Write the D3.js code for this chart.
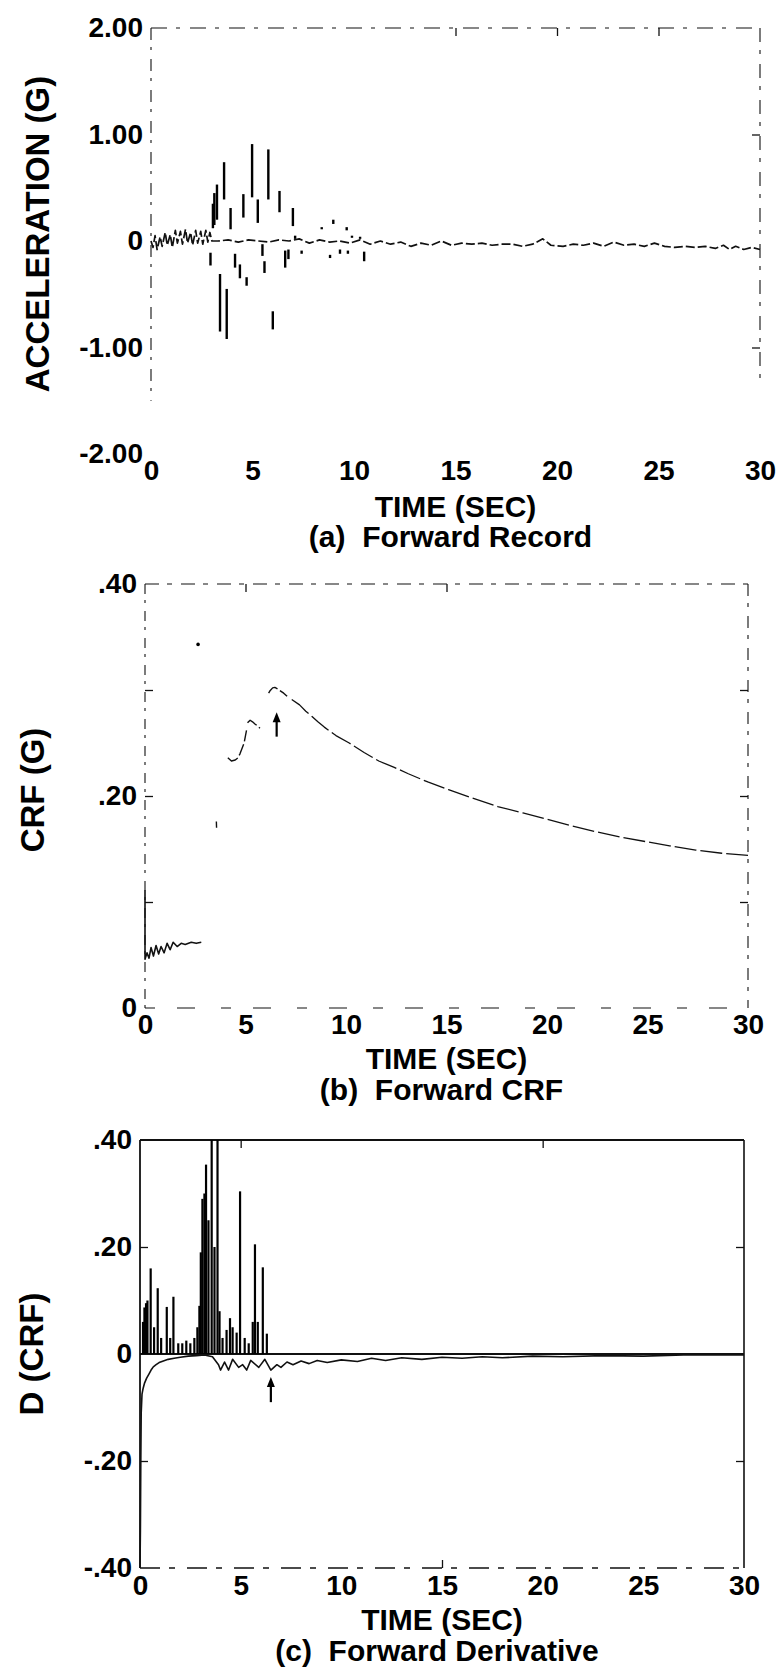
<!DOCTYPE html>
<html>
<head>
<meta charset="utf-8">
<script src="https://cdn.jsdelivr.net/npm/d3@7"></script>
<style>
  body { margin: 0; background: #fff; }
  svg text { font-family: "Liberation Sans", Arial, sans-serif; font-weight: bold; fill: #000; }
</style>
</head>
<body>
<svg id="chart" width="781" height="1671"></svg>
<script>
// ---------- DATA ----------
let timeTicks = [0, 5, 10, 15, 20, 25, 30];

// (a) forward record
let accelTicks = [2, 1, 0, -1, -2];
let accelLabels = ["2.00", "1.00", "0", "-1.00", "-2.00"];
let accelRightTicks = [1, -1];
let accelTopTicks = [15, 20, 25];
// baseline wiggle [t, g]
let accelTrace = [
    [0, 0], [0.1, -0.06], [0.2, 0.05], [0.3, -0.08], [0.45, 0.04], [0.55, -0.05], [0.7, 0.08],
    [0.8, -0.04], [0.95, 0.06], [1.05, -0.06], [1.2, 0.1], [1.3, -0.02], [1.45, 0.09], [1.55, -0.03],
    [1.7, 0.11], [1.8, -0.02], [1.95, 0.08], [2.05, -0.04], [2.2, 0.1], [2.3, -0.02], [2.45, 0.09],
    [2.55, -0.03], [2.7, 0.1], [2.8, -0.01], [2.9, 0.08], [3.0, 0], [3.3, 0], [3.8, 0.01], [4.3, -0.01],
    [4.8, 0.01], [5.3, 0], [5.8, -0.01], [6.3, 0.01], [6.8, 0], [7.3, 0.02], [7.8, -0.02], [8.3, 0.01],
    [8.8, -0.01], [9.3, 0], [9.8, -0.02], [10.3, 0.01], [10.8, -0.03], [11.3, 0], [11.8, -0.03],
    [12.3, -0.01], [12.8, -0.05], [13.3, -0.02], [13.8, -0.04], [14.3, 0], [14.8, -0.04], [15.3, -0.02],
    [15.8, -0.03], [16.3, -0.02], [16.8, -0.04], [17.3, -0.03], [17.8, -0.03], [18.3, -0.05],
    [18.8, -0.03], [19.3, 0.02], [19.7, -0.04], [20.3, -0.05], [20.8, -0.03], [21.3, -0.04],
    [21.8, -0.02], [22.3, -0.05], [22.8, -0.01], [23.3, -0.04], [23.8, -0.03], [24.3, -0.05],
    [24.8, -0.02], [25.3, -0.05], [25.8, -0.06], [26.3, -0.05], [26.8, -0.06], [27.3, -0.05],
    [27.8, -0.07], [28.2, -0.04], [28.5, -0.08], [28.8, -0.05], [29.2, -0.08], [29.6, -0.06], [30, -0.08]
];
// visible strokes of the strong motion part [t, high, low]
let accelSpikes = [
    [2.93, -0.11, -0.23], [3.05, 0.35, 0.12], [3.12, 0.45, 0.15], [3.25, 0.53, 0.2], [3.4, -0.31, -0.85],
    [3.6, 0.74, 0.39], [3.73, -0.45, -0.92], [3.92, 0.31, 0.11], [4.14, -0.12, -0.25], [4.38, -0.22, -0.35],
    [4.55, 0.44, 0.22], [4.71, -0.34, -0.42], [4.98, 0.91, 0.41], [5.26, 0.39, 0.17], [5.49, -0.03, -0.14],
    [5.59, -0.19, -0.3], [5.78, 0.86, 0.39], [6.0, -0.66, -0.83], [6.33, 0.47, 0.27], [6.61, -0.09, -0.25],
    [6.77, -0.08, -0.17], [6.99, 0.31, 0.14], [7.1, 0.05, 0.02], [7.42, -0.09, -0.12], [8.41, 0.13, 0.11],
    [8.82, -0.13, -0.16], [8.98, 0.2, 0.16], [9.31, -0.08, -0.12], [9.64, 0.13, 0.1], [9.7, -0.09, -0.12],
    [9.9, 0.05, 0.03], [10.3, 0.04, 0.02], [10.5, -0.1, -0.19]
];

// (b) forward CRF
let crfTicks = [0.4, 0.2, 0];
let crfLabels = [".40", ".20", "0"];
let crfMinorTicks = [0.3, 0.2, 0.1];
let crfTopTicks = [5, 15];
let crfStart = [
    [0, 0.111], [0, 0.046], [0.1, 0.052], [0.2, 0.047], [0.3, 0.057], [0.42, 0.049], [0.55, 0.059],
    [0.68, 0.051], [0.8, 0.058], [0.95, 0.052], [1.1, 0.061], [1.25, 0.055], [1.4, 0.062], [1.6, 0.058],
    [1.8, 0.061], [2.0, 0.06], [2.3, 0.062], [2.55, 0.061], [2.8, 0.062]
];
let crfPiece1 = [[3.55, 0.176], [3.56, 0.17]];
let crfPiece2 = [[4.12, 0.236], [4.3, 0.233], [4.49, 0.234], [4.62, 0.236], [4.73, 0.24], [4.85, 0.246],
    [4.93, 0.25], [5.0, 0.257], [5.05, 0.262]];
let crfPiece3 = [[5.1, 0.269], [5.23, 0.2715], [5.35, 0.27], [5.47, 0.268], [5.6, 0.266], [5.72, 0.264]];
let crfPiece4 = [[6.15, 0.297], [6.21, 0.299], [6.35, 0.302], [6.46, 0.3025], [6.6, 0.301], [6.75, 0.299],
    [6.9, 0.297], [7.07, 0.294]];
let crfDecay = [
    [7.3, 0.291], [7.69, 0.286], [8.0, 0.28], [8.31, 0.275], [8.6, 0.27], [8.92, 0.265], [9.5, 0.257],
    [10.16, 0.25], [10.9, 0.241], [11.63, 0.233], [12.4, 0.227], [13.1, 0.221], [14.1, 0.213], [15.1, 0.206],
    [16.3, 0.198], [17.55, 0.19], [18.8, 0.184], [20.0, 0.178], [21.2, 0.172], [22.5, 0.166], [23.7, 0.161],
    [24.9, 0.157], [26.1, 0.153], [27.4, 0.149], [28.7, 0.146], [30, 0.144]
];
let crfDots = [[2.64, 0.343]];
let crfArrow = [6.55, 0.256, 0.279];

// (c) forward derivative
let derivTicks = [0.4, 0.2, 0, -0.2, -0.4];
let derivLabels = [".40", ".20", "0", "-.20", "-.40"];
let derivMinorTicks = [0.2, -0.2];
let derivTopTicks = [5, 20];
let derivBottomTicks = [15];
let derivTrace = [
    [0, -0.4], [0.02, -0.33], [0.04, -0.2], [0.06, -0.11], [0.1, -0.075], [0.15, -0.065], [0.22, -0.055],
    [0.33, -0.045], [0.45, -0.037], [0.55, -0.03], [0.66, -0.024], [0.8, -0.02], [0.95, -0.016],
    [1.16, -0.013], [1.4, -0.01], [1.7, -0.008], [2.0, -0.006], [2.4, -0.004], [2.8, -0.003], [3.2, -0.002],
    [3.6, -0.005], [3.9, -0.02], [4.0, -0.03], [4.2, -0.015], [4.4, -0.03], [4.6, -0.01], [4.9, -0.025],
    [5.1, -0.02], [5.3, -0.03], [5.5, -0.012], [5.9, -0.025], [6.2, -0.01], [6.5, -0.03], [6.8, -0.02],
    [7.0, -0.025], [7.3, -0.015], [7.6, -0.02], [8.0, -0.013], [8.4, -0.018], [8.8, -0.012], [9.3, -0.016],
    [10, -0.011], [10.8, -0.014], [11.5, -0.008], [12.2, -0.012], [13, -0.007], [14, -0.01], [15, -0.006],
    [16, -0.008], [17, -0.005], [18, -0.007], [19.5, -0.004], [21, -0.005], [23, -0.003], [25, -0.004],
    [27, -0.002], [30, -0.002]
];
// spikes [t, top]
let derivSpikes = [
    [0.15, 0.06], [0.22, 0.087], [0.3, 0.095], [0.37, 0.1], [0.53, 0.16], [0.7, 0.05], [0.88, 0.123],
    [1.05, 0.03], [1.33, 0.088], [1.5, 0.03], [1.66, 0.107], [1.9, 0.02], [2.1, 0.02], [2.3, 0.025],
    [2.5, 0.02], [2.7, 0.03], [2.85, 0.05], [2.95, 0.09], [3.02, 0.19], [3.1, 0.29], [3.2, 0.3],
    [3.28, 0.354], [3.4, 0.25], [3.56, 0.4], [3.7, 0.2], [3.85, 0.4], [3.95, 0.08], [4.1, 0.03],
    [4.3, 0.045], [4.47, 0.067], [4.6, 0.05], [4.8, 0.04], [4.97, 0.304], [5.2, 0.03], [5.4, 0.02],
    [5.6, 0.06], [5.71, 0.205], [5.85, 0.06], [6.1, 0.162], [6.3, 0.038]
];
let derivArrow = [6.5, -0.09, -0.043];

// ---------- LAYOUT ----------
let svg = d3.select("#chart");
let boxA = { left: 151, right: 760, top: 28, bottom: 454, labelY: 470, timeY: 506, captionY: 536, titleY: 234 };
let boxB = { left: 145, right: 748, top: 584, bottom: 1008, labelY: 1024, timeY: 1058, captionY: 1089, titleY: 790 };
let boxC = { left: 140, right: 744, top: 1140, bottom: 1568, labelY: 1585, timeY: 1619, captionY: 1650, titleY: 1354 };

function makeScales(box, yDomain) {
    let x = d3.scaleLinear().domain([0, 30]).range([box.left, box.right]);
    let y = d3.scaleLinear().domain(yDomain).range([box.bottom, box.top]);
    return { x, y };
}

//ritar en kant av ramen mellan två datapunkter
function frameLine(x, y, p1, p2, width, dash) {
    svg.append("line")
        .attr("x1", x(p1[0])).attr("y1", y(p1[1]))
        .attr("x2", x(p2[0])).attr("y2", y(p2[1]))
        .attr("stroke", "#111")
        .attr("stroke-width", width)
        .attr("stroke-dasharray", dash);
}

//tick-etiketter + inåtvända ticks
function drawAxes(box, s, opts) {
    // x labels
    let xa = svg.append("g")
        .attr("transform", `translate(0,${box.labelY - 10})`)
        .call(d3.axisBottom(s.x).tickValues(timeTicks).tickSize(0).tickPadding(0).tickFormat(d3.format("d")));
    xa.select(".domain").remove();
    xa.selectAll("text").attr("font-size", 28).attr("font-family", null);

    // y labels
    let ya = svg.append("g")
        .attr("transform", `translate(${box.left},0)`)
        .call(d3.axisLeft(s.y).tickValues(opts.yTicks).tickSize(0).tickPadding(8)
            .tickFormat((d, i) => opts.yLabels[i]));
    ya.select(".domain").remove();
    ya.selectAll("text").attr("font-size", 28).attr("font-family", null);

    // inward ticks
    let tickStyle = (g) => {
        g.select(".domain").remove();
        g.selectAll("line").attr("stroke", "#111").attr("stroke-width", 1.3);
    };
    if (opts.leftTicks) {
        svg.append("g").attr("transform", `translate(${box.left},0)`)
            .call(d3.axisLeft(s.y).tickValues(opts.leftTicks).tickSizeInner(-8).tickSizeOuter(0).tickFormat(""))
            .call(tickStyle);
    }
    if (opts.rightTicks) {
        svg.append("g").attr("transform", `translate(${box.right},0)`)
            .call(d3.axisRight(s.y).tickValues(opts.rightTicks).tickSizeInner(-8).tickSizeOuter(0).tickFormat(""))
            .call(tickStyle);
    }
    if (opts.topTicks) {
        svg.append("g").attr("transform", `translate(0,${box.top})`)
            .call(d3.axisTop(s.x).tickValues(opts.topTicks).tickSizeInner(-8).tickSizeOuter(0).tickFormat(""))
            .call(tickStyle);
    }
    if (opts.bottomTicks) {
        svg.append("g").attr("transform", `translate(0,${box.bottom})`)
            .call(d3.axisBottom(s.x).tickValues(opts.bottomTicks).tickSizeInner(-8).tickSizeOuter(0).tickFormat(""))
            .call(tickStyle);
    }

    // TIME (SEC) + caption
    let cx = s.x(15);
    svg.append("text").attr("x", cx).attr("y", box.timeY).attr("dy", "0.36em")
        .attr("text-anchor", "middle").attr("font-size", 30).text("TIME (SEC)");
    svg.append("text").attr("x", cx - 5).attr("y", box.captionY).attr("dy", "0.36em")
        .attr("text-anchor", "middle").attr("font-size", 30).style("white-space", "pre")
        .text(opts.caption);

    // y title
    svg.append("text")
        .attr("transform", `translate(${opts.titleX},${box.titleY}) rotate(-90)`)
        .attr("dy", "0.36em")
        .attr("text-anchor", "middle").attr("font-size", 33).text(opts.title);
}

function drawPath(s, data, width, dash) {
    svg.append("path")
        .datum(data)
        .attr("d", d3.line().x(d => s.x(d[0])).y(d => s.y(d[1])))
        .attr("fill", "none")
        .attr("stroke", "#111")
        .attr("stroke-width", width)
        .attr("stroke-linejoin", "round")
        .attr("stroke-dasharray", dash);
}

function drawArrow(s, arrow) {
    let ax = s.x(arrow[0]);
    let tail = s.y(arrow[1]);
    let tip = s.y(arrow[2]);
    svg.append("line").attr("x1", ax).attr("x2", ax).attr("y1", tail).attr("y2", tip + 6)
        .attr("stroke", "#000").attr("stroke-width", 2.2);
    svg.append("path")
        .attr("d", `M${ax},${tip} L${ax - 4},${tip + 10} L${ax + 4},${tip + 10} Z`)
        .attr("fill", "#000");
}

// ---------- (a) FORWARD RECORD ----------
let sA = makeScales(boxA, [-2, 2]);
frameLine(sA.x, sA.y, [0, 2], [30, 2], 1.1, "16 9 4 10");
frameLine(sA.x, sA.y, [0, 2], [0, -1.5], 1.1, "12 7 3 9");
frameLine(sA.x, sA.y, [30, 2], [30, -1.3], 1.1, "14 8 4 10");
drawAxes(boxA, sA, {
    yTicks: accelTicks, yLabels: accelLabels, rightTicks: accelRightTicks, topTicks: accelTopTicks,
    caption: "(a)  Forward Record", title: "ACCELERATION (G)", titleX: 37
});
drawPath(sA, accelTrace, 1.7, "9 3");
svg.append("g").selectAll("line")
    .data(accelSpikes)
    .join("line")
    .attr("x1", d => sA.x(d[0])).attr("x2", d => sA.x(d[0]))
    .attr("y1", d => sA.y(d[1])).attr("y2", d => sA.y(d[2]))
    .attr("stroke", "#000").attr("stroke-width", 2.4);

// ---------- (b) FORWARD CRF ----------
let sB = makeScales(boxB, [0, 0.4]);
frameLine(sB.x, sB.y, [0, 0.4], [30, 0.4], 1.1, "14 8 5 9");
frameLine(sB.x, sB.y, [0, 0.4], [0, 0], 1.1, "10 6 3 8");
frameLine(sB.x, sB.y, [30, 0.4], [30, 0], 1.1, "12 7 4 9");
frameLine(sB.x, sB.y, [0, 0], [30, 0], 1.1, "10 22 18 26");
drawAxes(boxB, sB, {
    yTicks: crfTicks, yLabels: crfLabels, leftTicks: crfMinorTicks, rightTicks: crfMinorTicks,
    topTicks: crfTopTicks, caption: "(b)  Forward CRF", title: "CRF (G)", titleX: 32
});
drawPath(sB, crfStart, 1.6, null);
[crfPiece1, crfPiece2, crfPiece3, crfPiece4].forEach(p => drawPath(sB, p, 1.4, "12 3"));
drawPath(sB, crfDecay, 1.3, "22 4");
svg.append("g").selectAll("circle")
    .data(crfDots)
    .join("circle")
    .attr("cx", d => sB.x(d[0])).attr("cy", d => sB.y(d[1])).attr("r", 1.8).attr("fill", "#000");
drawArrow(sB, crfArrow);

// ---------- (c) FORWARD DERIVATIVE ----------
let sC = makeScales(boxC, [-0.4, 0.4]);
frameLine(sC.x, sC.y, [0, 0.4], [30, 0.4], 1.8, null);
frameLine(sC.x, sC.y, [0, 0.4], [0, -0.4], 1.8, null);
frameLine(sC.x, sC.y, [30, 0.4], [30, -0.4], 1.6, null);
frameLine(sC.x, sC.y, [0, -0.4], [30, -0.4], 1.4, "20 9 6 12");
drawAxes(boxC, sC, {
    yTicks: derivTicks, yLabels: derivLabels, leftTicks: derivMinorTicks, rightTicks: derivMinorTicks,
    topTicks: derivTopTicks, bottomTicks: derivBottomTicks,
    caption: "(c)  Forward Derivative", title: "D (CRF)", titleX: 31
});
// nollinje
frameLine(sC.x, sC.y, [0, 0], [30, 0], 1.8, null);
drawPath(sC, derivTrace, 1.6, null);
svg.append("g").selectAll("line")
    .data(derivSpikes)
    .join("line")
    .attr("x1", d => sC.x(d[0])).attr("x2", d => sC.x(d[0]))
    .attr("y1", sC.y(0)).attr("y2", d => sC.y(d[1]))
    .attr("stroke", "#000").attr("stroke-width", 2.2);
drawArrow(sC, derivArrow);
</script>
</body>
</html>
